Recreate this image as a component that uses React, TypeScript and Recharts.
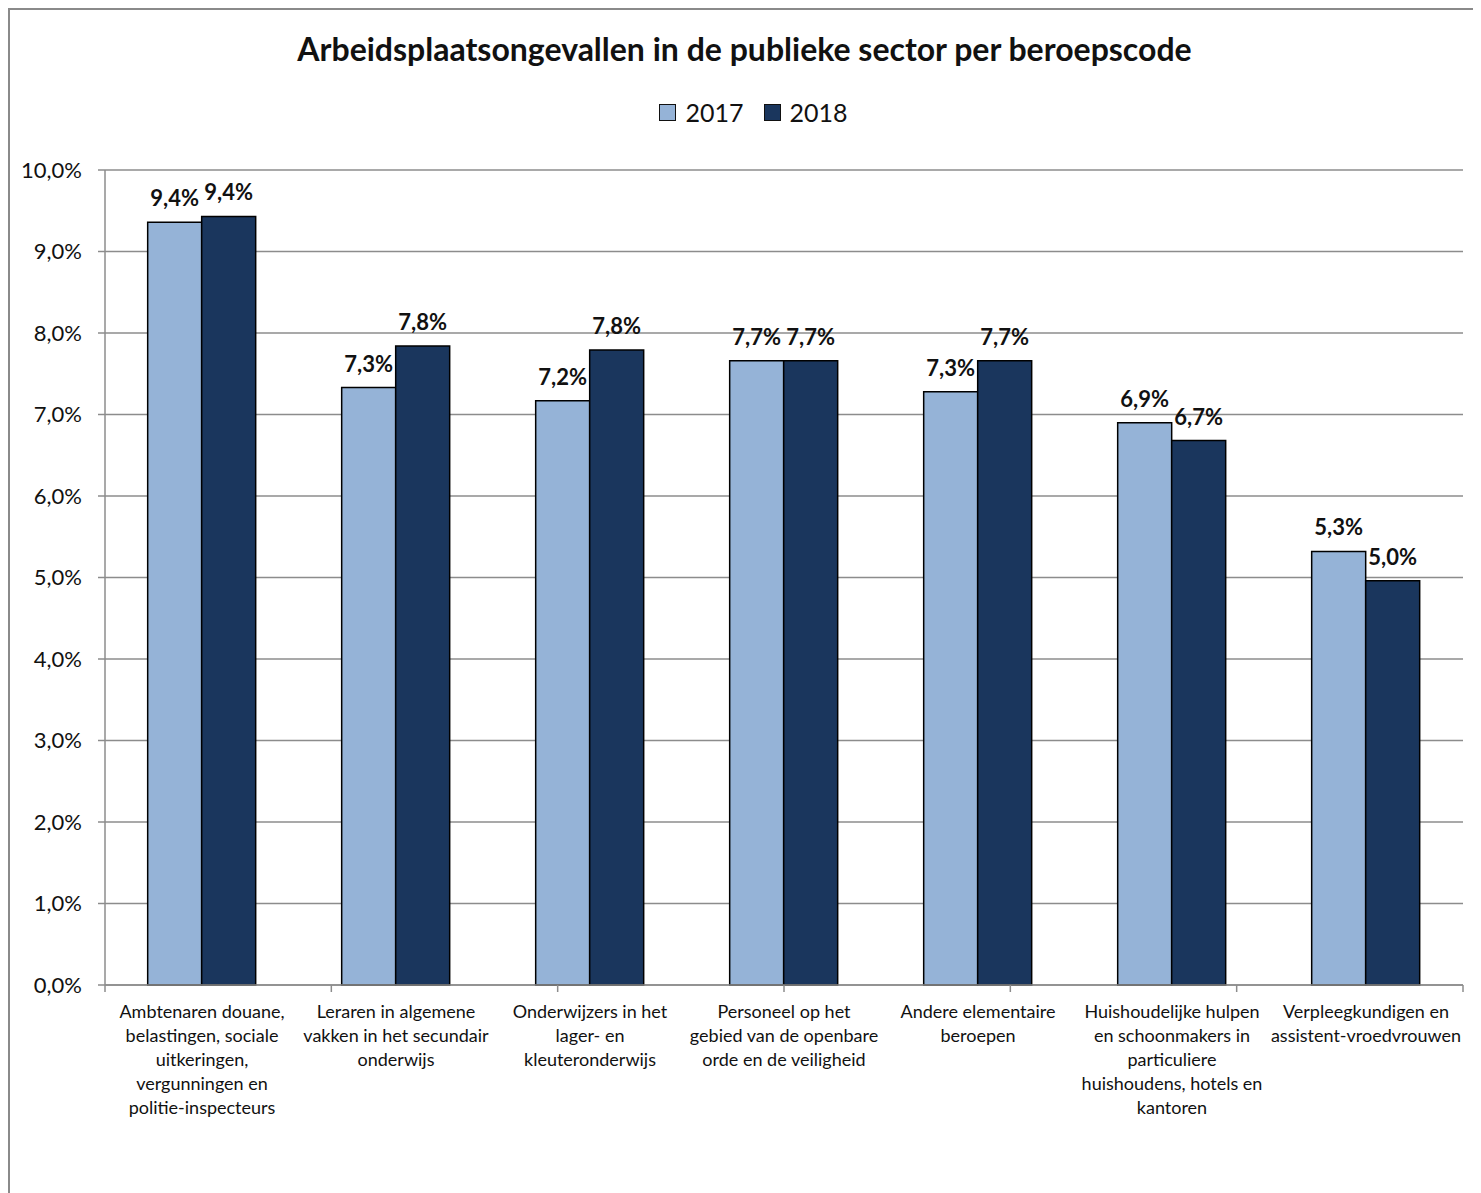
import React from "react";
import { BarChart, Bar, XAxis, YAxis, CartesianGrid, LabelList } from "recharts";

const categories = [
  "Ambtenaren douane,\nbelastingen, sociale\nuitkeringen,\nvergunningen en\npolitie-inspecteurs",
  "Leraren in algemene\nvakken in het secundair\nonderwijs",
  "Onderwijzers  in het\nlager- en\nkleuteronderwijs",
  "Personeel op het\ngebied van de openbare\norde en de veiligheid",
  "Andere elementaire\nberoepen",
  "Huishoudelijke hulpen\nen schoonmakers in\nparticuliere\nhuishoudens, hotels en\nkantoren",
  "Verpleegkundigen en\nassistent-vroedvrouwen",
];
const values2017 = [9.36, 7.33, 7.17, 7.66, 7.28, 6.9, 5.32];
const values2018 = [9.43, 7.84, 7.79, 7.66, 7.66, 6.68, 4.96];
const yTicks = [0, 1, 2, 3, 4, 5, 6, 7, 8, 9, 10];
const boundaryTicks = [0, 1, 2, 3, 4, 5, 6, 7];

const COLOR_2017 = "#95b3d7";
const COLOR_2018 = "#1a365d";
const GRID = "#8c8c8c";
const FONT = "Lato, 'Open Sans', sans-serif";

const data = categories.map((name, i) => ({
  name,
  y2017: values2017[i],
  y2018: values2018[i],
}));

const pct = (v: number) => `${Number(v).toFixed(1).replace(".", ",")}%`;

const CatTick = (props: any) => {
  const { x, y, payload } = props;
  const lines = String(payload.value).split("\n");
  return (
    <text x={x} y={y} textAnchor="middle" fontSize={18} fill="#111" fontFamily={FONT}>
      {lines.map((l, i) => (
        <tspan key={i} x={x} dy={24}>
          {l}
        </tspan>
      ))}
    </text>
  );
};

const EmptyTick = () => <g />;

const legendItems = [
  { label: "2017", color: COLOR_2017 },
  { label: "2018", color: COLOR_2018 },
];

export default function App() {
  return (
    <div style={{ position: "relative", width: 1473, height: 1185, background: "#fff" }}>
      <div
        style={{
          position: "absolute",
          left: 0,
          top: 0,
          width: 1473,
          height: 1185,
          boxSizing: "border-box",
          borderLeft: "2px solid #8a8a8a",
          borderTop: "2px solid #8a8a8a",
          pointerEvents: "none",
        }}
      />
      <div
        style={{
          position: "absolute",
          left: 0,
          top: 22,
          width: 1473,
          textAlign: "center",
          fontFamily: FONT,
          fontWeight: 700,
          fontSize: 32,
          lineHeight: "38px",
          color: "#111",
        }}
      >
        Arbeidsplaatsongevallen in de publieke sector per beroepscode
      </div>
      <div
        style={{
          position: "absolute",
          left: 0,
          top: 88,
          width: 1473,
          height: 32,
          display: "flex",
          justifyContent: "center",
          alignItems: "center",
          fontFamily: FONT,
          fontSize: 25,
          color: "#111",
          paddingLeft: 18,
          boxSizing: "border-box",
        }}
      >
        {legendItems.map((it) => (
          <div key={it.label} style={{ display: "flex", alignItems: "center", margin: "0 10px" }}>
            <span
              style={{
                width: 15,
                height: 15,
                background: it.color,
                border: "1.5px solid #111",
                marginRight: 9,
              }}
            />
            <span>{it.label}</span>
          </div>
        ))}
      </div>
      <div style={{ position: "absolute", left: 0, top: 0 }}>
        <BarChart
          width={1473}
          height={1185}
          data={data}
          margin={{ top: 162, right: 18, bottom: 0, left: 0 }}
          barCategoryGap="22%"
          barGap={0}
        >
          <CartesianGrid
            horizontal
            vertical={false}
            stroke={GRID}
            strokeWidth={1.5}
            xAxisId="cat"
            yAxisId="v"
          />
          <XAxis
            xAxisId="a"
            type="number"
            domain={[0, 7]}
            ticks={boundaryTicks}
            tick={<EmptyTick />}
            tickSize={7}
            tickLine={{ stroke: GRID, strokeWidth: 1.5 }}
            axisLine={{ stroke: GRID, strokeWidth: 1.5 }}
            height={1}
          />
          <XAxis
            xAxisId="cat"
            dataKey="name"
            interval={0}
            tickLine={false}
            axisLine={false}
            height={207}
            tick={<CatTick />}
          />
          <YAxis
            yAxisId="v"
            width={97}
            domain={[0, 10]}
            ticks={yTicks}
            tickFormatter={pct}
            tick={{ fontSize: 22, fill: "#111", fontFamily: FONT }}
            tickSize={7}
            tickMargin={16}
            tickLine={{ stroke: GRID, strokeWidth: 1.5 }}
            axisLine={{ stroke: GRID, strokeWidth: 1.5 }}
          />
          <Bar
            xAxisId="cat"
            yAxisId="v"
            dataKey="y2017"
            name="2017"
            fill={COLOR_2017}
            stroke="#000"
            strokeWidth={1.5}
            isAnimationActive={false}
          >
            <LabelList
              dataKey="y2017"
              position="top"
              offset={16}
              formatter={pct as any}
              style={{ fontSize: 22, fontWeight: 700, fill: "#111", fontFamily: FONT }}
            />
          </Bar>
          <Bar
            xAxisId="cat"
            yAxisId="v"
            dataKey="y2018"
            name="2018"
            fill={COLOR_2018}
            stroke="#000"
            strokeWidth={1.5}
            isAnimationActive={false}
          >
            <LabelList
              dataKey="y2018"
              position="top"
              offset={16}
              formatter={pct as any}
              style={{ fontSize: 22, fontWeight: 700, fill: "#111", fontFamily: FONT }}
            />
          </Bar>
        </BarChart>
      </div>
    </div>
  );
}
